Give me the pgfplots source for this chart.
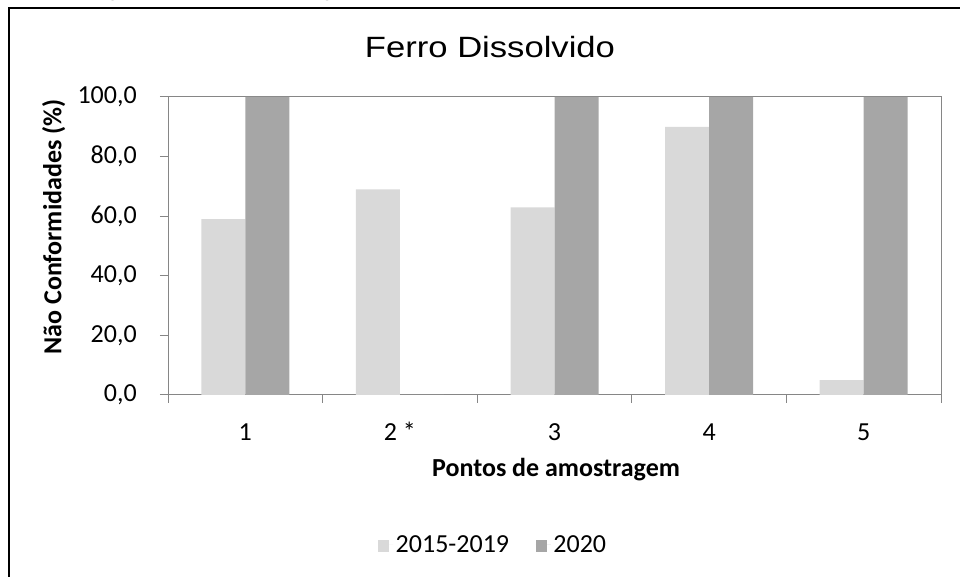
\documentclass[border=0pt]{standalone}
\usepackage{pgfplots}
\pgfplotsset{compat=1.18}
\usepackage{fontspec}
\setmainfont{Carlito}
\newfontfamily\arialf{Liberation Sans}
\definecolor{lightbar}{HTML}{D9D9D9}
\definecolor{darkbar}{HTML}{A6A6A6}
\definecolor{axgray}{HTML}{868686}
\begin{document}
\begin{tikzpicture}
\path[use as bounding box] (0pt,0pt) rectangle (720pt,432.75pt);
\begin{scope}
\clip (0pt,0pt) rectangle (720pt,432.75pt);
% cut-off caption at the top
\node[anchor=base west, inner sep=0pt] at (63.75pt,435.75pt)
  {\resizebox{615pt}{!}{\arialf Figura 10 -- Percentagem de resultados não conformes de ferro dissolvido}};
% outer chart frame
\draw[line width=1.75pt, black] (6.75pt,-20pt) -- (6.75pt,426.5pt) -- (740pt,426.5pt);
\end{scope}
% title
\node[anchor=base, inner sep=0pt, xscale=1.18] at (367.5pt,389.5pt)
  {\arialf\fontsize{22}{26}\selectfont Ferro Dissolvido};
\begin{axis}[
  at={(126pt,136.5pt)}, anchor=south west,
  scale only axis, width=579.75pt, height=223.5pt,
  ybar=0pt, bar width=33pt,
  xmin=-0.5, xmax=4.5, ymin=0, ymax=100,
  xtick={-0.5,0.5,1.5,2.5,3.5,4.5},
  x tick label as interval,
  xticklabels={1,{2 *},3,4,5},
  ytick={0,20,40,60,80,100},
  yticklabels={{0,0},{20,0},{40,0},{60,0},{80,0},{100,0}},
  tick align=outside, xtick pos=bottom, ytick pos=left,
  major tick length=6pt,
  tick style={axgray, line width=0.75pt},
  axis line style={axgray, line width=0.75pt},
  every tick label/.append style={font=\fontsize{19.5}{23}\selectfont},
  xticklabel style={inner sep=0pt, anchor=base, yshift=-28.5pt},
  yticklabel style={inner sep=0pt, anchor=east, xshift=-17.25pt},
  ylabel={\textbf{Não Conformidades (\%)}},
  xlabel={\textbf{Pontos de amostragem}},
  label style={font=\fontsize{19.5}{23}\selectfont},
  ylabel style={at={(axis description cs:-0.148,0.564)}, anchor=center, rotate=0},
  xlabel style={at={(axis description cs:0.502,-0.275)}, anchor=base},
  legend style={at={(axis description cs:0.421,-0.503)}, anchor=center, draw=none,
    font=\fontsize{19.5}{23}\selectfont, legend columns=2,
    /tikz/every even column/.append style={column sep=18pt},
    legend cell align=left},
  legend image code/.code={\fill[#1] (0pt,-5.6pt) rectangle (8.25pt,3.4pt);
    \path (0pt,0pt) -- (11.25pt,0pt);},
]
\addplot[fill=lightbar, draw=none] coordinates {(0,59) (1,69) (2,63) (3,90) (4,5)};
\addplot[fill=darkbar, draw=none] coordinates {(0,100) (1,0) (2,100) (3,100) (4,100)};
\legend{2015-2019,2020}
\end{axis}
\end{tikzpicture}
\end{document}
